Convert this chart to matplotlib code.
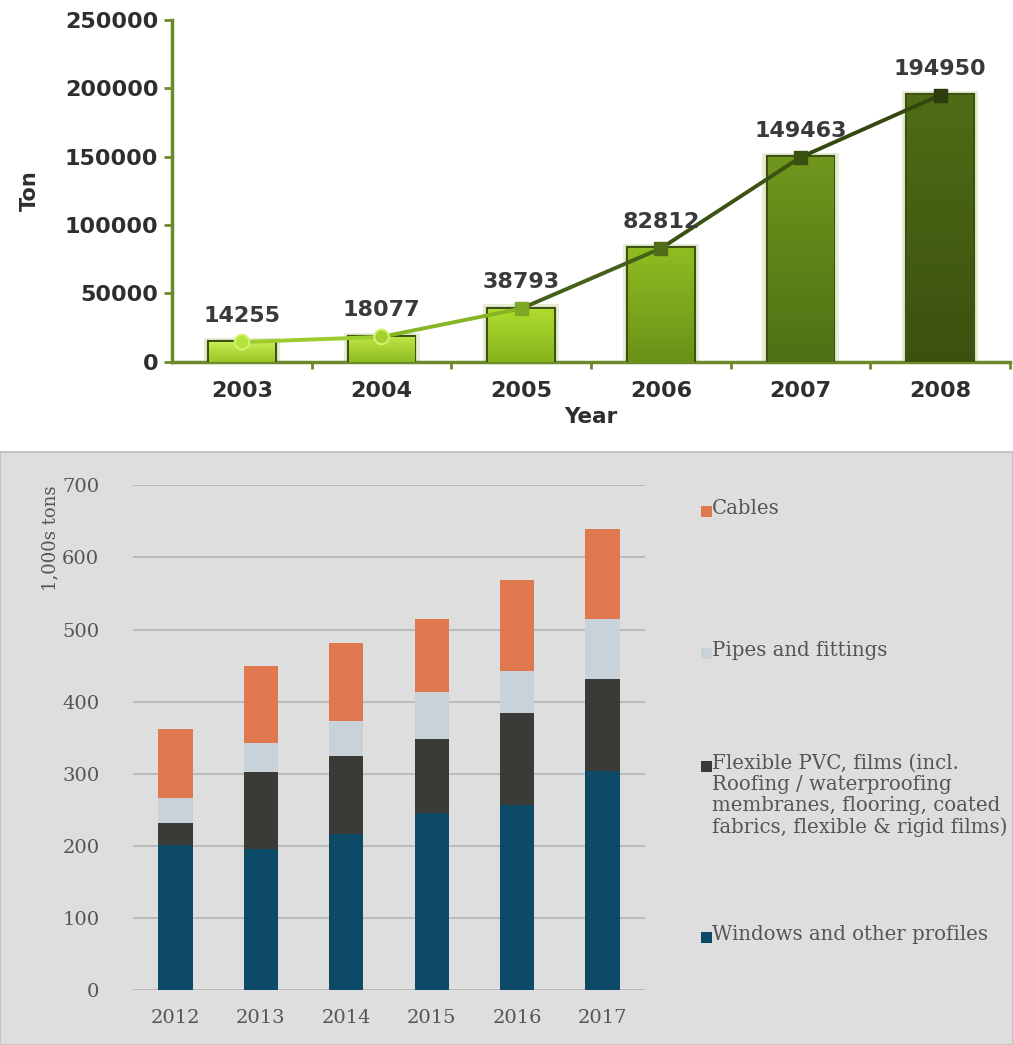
import matplotlib
matplotlib.use("Agg")
import matplotlib.pyplot as plt
import numpy as np
from matplotlib.collections import LineCollection
from matplotlib.patches import Rectangle
from matplotlib.colors import LinearSegmentedColormap, to_rgb

# PVC consumption, 2003-2008 (tons)
years_a = ["2003", "2004", "2005", "2006", "2007", "2008"]
tons_a = [14255, 18077, 38793, 82812, 149463, 194950]

# European PVC demand by application, 2012-2017 (1,000s tons)
years_b = ["2012", "2013", "2014", "2015", "2016", "2017"]
windows = [201, 195, 217, 246, 256, 304]
flexible = [31, 107, 107, 102, 128, 128]
pipes = [34, 41, 49, 65, 58, 82]
cables = [96, 107, 108, 102, 126, 126]
series_names = ["Cables", "Pipes and fittings",
                "Flexible PVC, films (incl.\nRoofing / waterproofing\nmembranes, flooring, coated\nfabrics, flexible & rigid films)",
                "Windows and other profiles"]

fig = plt.figure(figsize=(10.13, 10.45), dpi=100)
fig.patch.set_facecolor("white")

# grey panel behind the lower chart
fig.patches.append(Rectangle((0, 0), 1, 0.5675, transform=fig.transFigure,
                             facecolor="#dedede", edgecolor="#c4c4c4", lw=1.5, zorder=-1))

# ---------------- top chart ----------------
ax1 = fig.add_axes([0.170, 0.654, 0.827, 0.327])
x1 = np.arange(len(years_a))
bar_light = ["#c8ec50", "#bde444", "#b0dc30", "#8fbc22", "#6f961c", "#4f6c15"]
bar_dark = ["#98c426", "#8ebc20", "#86b41c", "#6a9218", "#4f7014", "#3b5110"]
bars = ax1.bar(x1, tons_a, width=0.47, color=bar_light, edgecolor="#3d5211",
               linewidth=3, zorder=3)
for b, c0, c1 in zip(bars, bar_light, bar_dark):
    cmap = LinearSegmentedColormap.from_list("g", [to_rgb(c1), to_rgb(c0)])
    x0, y0 = b.get_x(), b.get_y()
    w, h = b.get_width(), b.get_height()
    img = ax1.imshow(np.linspace(0, 1, 50).reshape(-1, 1), cmap=cmap, aspect="auto",
                     origin="lower", extent=(x0, x0 + w, y0, y0 + h), zorder=3.5)
    img.set_clip_path(b)
    # soft glow around the bar
    ax1.bar(x0 + w / 2, h + 3000, width=w * 1.16, color="#c9d8a0",
            alpha=0.45, zorder=2, linewidth=0)

line_cols = ["#b6e23c", "#a2d030", "#7fa824", "#4f6c16", "#3a5010", "#2c3c0c"]
pts = np.column_stack([x1, tons_a])
segs = np.stack([pts[:-1], pts[1:]], axis=1)
lc = LineCollection(segs, colors=["#9ccd2c", "#86b424", "#45601a", "#3a5214", "#33480f"],
                    linewidths=2.8, zorder=5)
ax1.add_collection(lc)
ax1.scatter(x1[:2], tons_a[:2], marker="o", s=110, c=line_cols[:2],
            edgecolors="#d6f070", linewidths=1.5, zorder=6)
ax1.scatter(x1[2:], tons_a[2:], marker="s", s=90, c=line_cols[2:],
            edgecolors=line_cols[2:], zorder=6)

for xi, v in zip(x1, tons_a):
    ax1.text(xi, v + 12000, str(v), ha="center", va="bottom", fontsize=16,
             fontweight="bold", color="#3a3a3a", zorder=7)

ax1.set_xlim(-0.5, 5.5)
ax1.set_ylim(0, 250000)
ax1.set_yticks(np.arange(0, 250001, 50000))
ax1.set_xticks(x1)
ax1.set_xticklabels(years_a)
ax1.set_xticks(np.arange(0.5, 5.6, 1), minor=True)
for s in ["top", "right"]:
    ax1.spines[s].set_visible(False)
for s in ["left", "bottom"]:
    ax1.spines[s].set_color("#6c8a2c")
    ax1.spines[s].set_linewidth(2.5)
ax1.tick_params(axis="y", colors="#6c8a2c", length=6, width=2, labelsize=16,
                labelcolor="#2e2e2e", pad=4)
ax1.tick_params(axis="x", which="major", length=0, pad=14, labelsize=16,
                labelcolor="#2e2e2e")
ax1.tick_params(axis="x", which="minor", length=5, width=2, colors="#6c8a2c")
for lab in ax1.get_xticklabels() + ax1.get_yticklabels():
    lab.set_fontweight("bold")
ax1.set_ylabel("Ton", fontsize=15, fontweight="bold", color="#2e2e2e", labelpad=18)
ax1.set_xlabel("Year", fontsize=15.5, fontweight="bold", color="#2e2e2e", labelpad=4)
ax1.set_facecolor("white")

# ---------------- bottom chart ----------------
serif = "DejaVu Serif"
ax2 = fig.add_axes([0.131, 0.0526, 0.506, 0.483])
ax2.set_facecolor("#dedede")
x2 = np.arange(len(years_b))
c_win, c_flex, c_pipe, c_cab = "#0c4a68", "#3b3a37", "#c8d2d8", "#e0784f"
w = 0.4
ax2.bar(x2, windows, width=w, color=c_win, zorder=3)
b1 = np.array(windows)
ax2.bar(x2, flexible, width=w, bottom=b1, color=c_flex, zorder=3)
b2 = b1 + np.array(flexible)
ax2.bar(x2, pipes, width=w, bottom=b2, color=c_pipe, zorder=3)
b3 = b2 + np.array(pipes)
ax2.bar(x2, cables, width=w, bottom=b3, color=c_cab, zorder=3)

ax2.set_xlim(-0.5, 5.5)
ax2.set_ylim(0, 700)
ax2.set_yticks(np.arange(0, 701, 100))
ax2.yaxis.grid(True, color="#b0b0b0", linewidth=1.1, zorder=1)
ax2.set_axisbelow(True)
ax2.set_xticks(x2)
ax2.set_xticklabels(years_b)
for s in ax2.spines.values():
    s.set_visible(False)
ax2.tick_params(length=0, labelsize=14, labelcolor="#555555", pad=14)
ax2.tick_params(axis="y", pad=24)
for lab in ax2.get_xticklabels() + ax2.get_yticklabels():
    lab.set_fontfamily(serif)
ax2.set_ylabel("1,000s tons", fontsize=13, color="#555555", family=serif,
               loc="top", labelpad=2)

# legend entries down the right side
legend_items = [(series_names[0], c_cab, 0.512),
                (series_names[1], c_pipe, 0.376),
                (series_names[2], c_flex, 0.268),
                (series_names[3], c_win, 0.104)]
for name, col, yy in legend_items:
    fig.patches.append(Rectangle((0.692, yy - 0.0065), 0.0105, 0.0105,
                                 transform=fig.transFigure, facecolor=col,
                                 edgecolor="none", zorder=3))
    fig.text(0.703, yy + 0.0105, name, ha="left", va="top", fontsize=14.2,
             color="#555555", family=serif, linespacing=1.14)

fig.savefig("out.png", dpi=100)
